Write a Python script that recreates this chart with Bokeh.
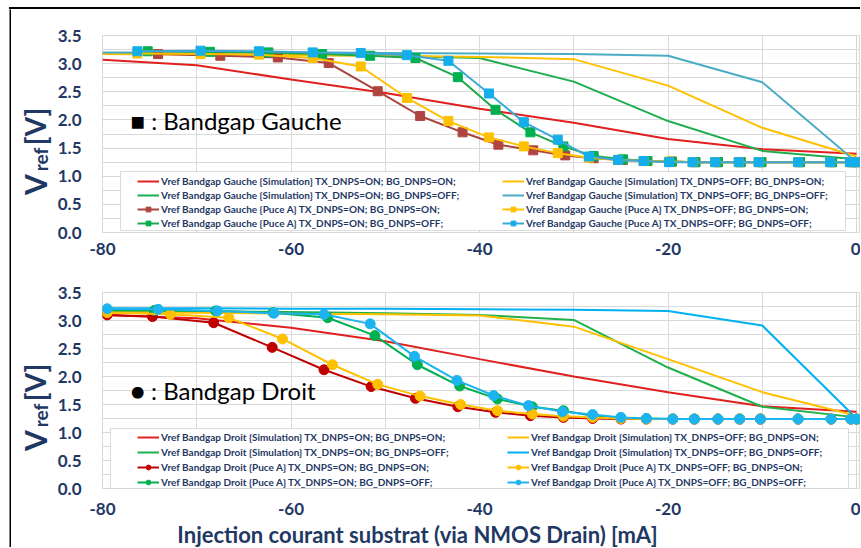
from math import pi
from bokeh.plotting import figure
from bokeh.models import (Label, Legend, LegendItem, BoxAnnotation, Range1d, FixedTicker, Div)
from bokeh.layouts import column, row
from bokeh.embed import file_html
from bokeh.resources import INLINE

NAVY = "#1F3864"
FONT = "Lato"
GRID = "#D9D9D9"

# ---------------- data ----------------
x_tick_values = [-80, -60, -40, -20, 0]
x_tick_labels = ["-80", "-60", "-40", "-20", "0"]
x_minor = [-80, -70, -60, -50, -40, -30, -20, -10, 0]
y_tick_values = [0.0, 0.5, 1.0, 1.5, 2.0, 2.5, 3.0, 3.5]
y_tick_labels = ["0.0", "0.5", "1.0", "1.5", "2.0", "2.5", "3.0", "3.5"]
y_minor = [0.0, 0.25, 0.5, 0.75, 1.0, 1.25, 1.5, 1.75, 2.0, 2.25, 2.5, 2.75, 3.0, 3.25, 3.5]

# Simulation x points (mA)
sim_x = [-80, -70, -60, -50, -40, -30, -20, -10, 0]

# --- Bandgap Gauche (top) ---
g_sim_on_on = [3.07, 2.97, 2.72, 2.48, 2.20, 1.95, 1.66, 1.48, 1.40]
g_sim_on_off = [3.17, 3.17, 3.16, 3.14, 3.10, 2.68, 1.98, 1.45, 1.30]
g_sim_off_on = [3.17, 3.16, 3.15, 3.14, 3.12, 3.08, 2.61, 1.86, 1.35]
g_sim_off_off = [3.20, 3.20, 3.20, 3.19, 3.18, 3.17, 3.14, 2.67, 1.25]

g_meas_on_on_x = [-74.1, -67.5, -61.4, -56.0, -50.8, -46.3, -41.8, -38.0, -34.3, -30.9, -27.9,
                  -24.8, -22.2, -19.6, -17.1, -14.7, -12.3, -10.1, -6.0, -2.6, -0.5, 0]
g_meas_on_on = [3.17, 3.14, 3.11, 3.01, 2.51, 2.07, 1.78, 1.56, 1.46, 1.37, 1.32,
                1.29, 1.27, 1.26, 1.25, 1.25, 1.25, 1.25, 1.25, 1.25, 1.25, 1.25]
g_meas_on_off_x = [-75.2, -68.6, -62.4, -56.7, -51.6, -46.8, -42.3, -38.3, -34.6, -31.1, -27.9,
                   -24.8, -22.2, -19.6, -17.1, -14.7, -12.3, -10.1, -6.0, -2.6, -0.5, 0]
g_meas_on_off = [3.22, 3.21, 3.20, 3.17, 3.14, 3.10, 2.76, 2.18, 1.78, 1.53, 1.36,
                 1.30, 1.27, 1.26, 1.25, 1.25, 1.25, 1.25, 1.25, 1.25, 1.25, 1.25]
g_meas_off_x = [-76.3, -69.6, -63.4, -57.7, -52.6, -47.7, -43.3, -39.0, -35.3, -31.7, -28.4,
                -25.3, -22.6, -19.9, -17.4, -15.0, -12.5, -10.4, -6.2, -2.8, -0.7, 0]
g_meas_off_on = [3.18, 3.17, 3.16, 3.10, 2.95, 2.39, 1.98, 1.69, 1.53, 1.41, 1.33,
                 1.29, 1.27, 1.26, 1.25, 1.25, 1.25, 1.25, 1.25, 1.25, 1.25, 1.25]
g_meas_off_off = [3.22, 3.23, 3.22, 3.20, 3.19, 3.15, 3.05, 2.47, 1.96, 1.65, 1.35,
                  1.29, 1.27, 1.25, 1.25, 1.25, 1.25, 1.25, 1.25, 1.25, 1.25, 1.25]

# --- Bandgap Droit (bottom) ---
d_sim_on_on = [3.10, 3.04, 2.87, 2.63, 2.31, 2.00, 1.72, 1.47, 1.37]
d_sim_on_off = [3.18, 3.17, 3.15, 3.13, 3.10, 3.01, 2.16, 1.46, 1.27]
d_sim_off_on = [3.15, 3.14, 3.12, 3.11, 3.09, 2.89, 2.31, 1.72, 1.30]
d_sim_off_off = [3.22, 3.22, 3.21, 3.21, 3.20, 3.19, 3.17, 2.91, 1.25]

d_meas_on_on_x = [-79.5, -74.7, -68.2, -62.0, -56.5, -51.5, -46.8, -42.3, -38.3, -34.6, -31.1, -28.0,
                  -25.0, -22.3, -19.5, -17.2, -14.7, -12.4, -10.2, -6.2, -2.7, -0.6, 0]
d_meas_on_on = [3.10, 3.07, 2.96, 2.52, 2.12, 1.82, 1.61, 1.46, 1.36, 1.30, 1.27, 1.25,
                1.24, 1.24, 1.24, 1.24, 1.24, 1.24, 1.24, 1.24, 1.24, 1.24, 1.24]
d_meas_on_off_x = [-79.5, -74.5, -68.0, -61.9, -56.1, -51.1, -46.6, -42.1, -38.1, -34.4, -31.1, -28.0,
                   -25.0, -22.3, -19.5, -17.2, -14.7, -12.4, -10.2, -6.2, -2.7, -0.6, 0]
d_meas_on_off = [3.18, 3.18, 3.17, 3.14, 3.05, 2.73, 2.21, 1.83, 1.60, 1.46, 1.39, 1.30,
                 1.26, 1.25, 1.24, 1.24, 1.24, 1.24, 1.24, 1.24, 1.24, 1.24, 1.24]
d_meas_off_on_x = [-79.5, -72.8, -66.6, -60.9, -55.6, -50.8, -46.3, -42.0, -38.1, -34.4, -31.1, -28.0,
                   -25.0, -22.3, -19.5, -17.2, -14.7, -12.4, -10.2, -6.2, -2.7, -0.6, 0]
d_meas_off_on = [3.14, 3.11, 3.05, 2.67, 2.21, 1.86, 1.65, 1.50, 1.39, 1.33, 1.29, 1.27,
                 1.25, 1.24, 1.24, 1.24, 1.24, 1.24, 1.24, 1.24, 1.24, 1.24, 1.24]
d_meas_off_off_x = [-79.5, -74.1, -67.8, -61.8, -56.5, -51.6, -46.9, -42.4, -38.5, -34.8, -31.2, -28.0,
                    -25.0, -22.3, -19.5, -17.2, -14.7, -12.4, -10.2, -6.2, -2.7, -0.6, 0]
d_meas_off_off = [3.21, 3.20, 3.17, 3.13, 3.11, 2.94, 2.36, 1.93, 1.66, 1.48, 1.37, 1.32,
                  1.27, 1.25, 1.24, 1.24, 1.24, 1.24, 1.24, 1.24, 1.24, 1.24, 1.24]

conds = ["TX_DNPS=ON; BG_DNPS=ON;", "TX_DNPS=ON; BG_DNPS=OFF;",
         "TX_DNPS=OFF; BG_DNPS=ON;", "TX_DNPS=OFF; BG_DNPS=OFF;"]


def blank(w, h, color="white"):
    f = figure(width=w, height=h, output_backend="svg", toolbar_location=None, title=None,
               x_range=Range1d(0, w), y_range=Range1d(0, h),
               x_axis_location=None, y_axis_location=None,
               min_border=0, min_border_left=0, min_border_right=0,
               min_border_top=0, min_border_bottom=0)
    f.grid.visible = False
    f.outline_line_color = None
    f.background_fill_color = color
    f.border_fill_color = color
    return f


def style_fig(p):
    p.xaxis.ticker = FixedTicker(ticks=x_tick_values, minor_ticks=x_minor)
    p.yaxis.ticker = FixedTicker(ticks=y_tick_values, minor_ticks=y_minor)
    p.xaxis.major_label_overrides = dict(zip(x_tick_values, x_tick_labels))
    p.yaxis.major_label_overrides = dict(zip(y_tick_values, y_tick_labels))
    for g in (p.xgrid, p.ygrid):
        g.grid_line_color = GRID
        g.minor_grid_line_color = GRID
        g.grid_line_width = 1
    for ax in (p.xaxis, p.yaxis):
        ax.axis_line_color = None
        ax.major_tick_line_color = None
        ax.minor_tick_line_color = None
        ax.major_tick_out = 0
        ax.major_tick_in = 0
        ax.major_label_text_font = FONT
        ax.major_label_text_font_style = "bold"
        ax.major_label_text_font_size = "17px"
        ax.major_label_text_color = NAVY
    p.yaxis.major_label_standoff = 17
    p.outline_line_color = GRID
    p.background_fill_color = "white"
    p.border_fill_color = "white"


def ytitle(f, cx, cy):
    # centred pieces: "V", subscript "ref", "[V]" reading bottom-to-top
    f.add_layout(Label(x=cx, y=cy, x_units="screen", y_units="screen", text="V", angle=pi / 2,
                       text_font=FONT, text_font_style="bold", text_font_size="30px",
                       text_color=NAVY, text_baseline="middle", text_align="center"))
    f.add_layout(Label(x=cx + 6, y=cy + 25, x_units="screen", y_units="screen", text="ref", angle=pi / 2,
                       text_font=FONT, text_font_style="bold", text_font_size="19px",
                       text_color=NAVY, text_baseline="middle", text_align="center"))
    f.add_layout(Label(x=cx, y=cy + 58, x_units="screen", y_units="screen", text="[V]", angle=pi / 2,
                       text_font=FONT, text_font_style="bold", text_font_size="28px",
                       text_color=NAVY, text_baseline="middle", text_align="center"))


def add_series(p, name, sims, meas, colors_sim, colors_meas, marker, msize):
    sim_r = []
    for ys, c in zip(sims, colors_sim):
        sim_r.append(p.line(sim_x, ys, line_color=c, line_width=2))
    meas_r = []
    for (xs, ys), (lc, fc) in zip(meas, colors_meas):
        l = p.line(xs, ys, line_color=lc, line_width=2)
        s = p.scatter(xs, ys, marker=marker, size=msize, fill_color=fc, line_color=fc)
        meas_r.append([l, s])
    left_items = [
        LegendItem(label=f"Vref Bandgap {name} {{Simulation}} {conds[0]}", renderers=[sim_r[0]]),
        LegendItem(label=f"Vref Bandgap {name} {{Simulation}} {conds[1]}", renderers=[sim_r[1]]),
        LegendItem(label=f"Vref Bandgap {name} {{Puce A}} {conds[0]}", renderers=meas_r[0]),
        LegendItem(label=f"Vref Bandgap {name} {{Puce A}} {conds[1]}", renderers=meas_r[1]),
    ]
    right_items = [
        LegendItem(label=f"Vref Bandgap {name} {{Simulation}} {conds[2]}", renderers=[sim_r[2]]),
        LegendItem(label=f"Vref Bandgap {name} {{Simulation}} {conds[3]}", renderers=[sim_r[3]]),
        LegendItem(label=f"Vref Bandgap {name} {{Puce A}} {conds[2]}", renderers=meas_r[2]),
        LegendItem(label=f"Vref Bandgap {name} {{Puce A}} {conds[3]}", renderers=meas_r[3]),
    ]
    return left_items, right_items


def make_legend(items, loc, spacing):
    return Legend(items=items, location=loc, orientation="vertical",
                  border_line_color=None, background_fill_alpha=0, padding=0, margin=0,
                  spacing=spacing, glyph_width=22, glyph_height=12, label_height=12,
                  label_standoff=2, label_text_font=FONT, label_text_font_style="bold",
                  label_text_font_size="10px", label_text_color=NAVY)


X_END = 0.42

# ---------------- top figure ----------------
p1 = figure(width=808, height=253, x_range=Range1d(-80, X_END), y_range=Range1d(0, 3.5),
            output_backend="svg", toolbar_location=None,
            min_border_left=50, min_border_right=0, min_border_top=26, min_border_bottom=30)
style_fig(p1)
p1.xaxis.major_label_standoff = 6
l1, r1 = add_series(
    p1, "Gauche",
    [g_sim_on_on, g_sim_on_off, g_sim_off_on, g_sim_off_off],
    [(g_meas_on_on_x, g_meas_on_on), (g_meas_on_off_x, g_meas_on_off),
     (g_meas_off_x, g_meas_off_on), (g_meas_off_x, g_meas_off_off)],
    ["#E0201E", "#1FAE4F", "#FFC000", "#4BACC6"],
    [("#A9443F", "#B0453F"), ("#1DA84A", "#00B050"), ("#FFC000", "#FFC000"), ("#3DA8D8", "#14AEEA")],
    "square", 9)
p1.add_layout(BoxAnnotation(left=18, right=743, bottom=2, top=61,
                            left_units="screen", right_units="screen",
                            bottom_units="screen", top_units="screen",
                            fill_color="white", fill_alpha=1, line_color="#8C8C8C", line_width=1))
p1.add_layout(make_legend(l1, (35, 3), 2))
p1.add_layout(make_legend(r1, (400, 3), 2))
p1.add_layout(Label(x=28, y=112, x_units="screen", y_units="screen", text="\u25A0 : Bandgap Gauche",
                    text_font=FONT, text_font_size="24px", text_color="black", text_baseline="middle"))

# ---------------- bottom figure ----------------
p2 = figure(width=808, height=258, x_range=Range1d(-80, X_END), y_range=Range1d(0, 3.5),
            output_backend="svg", toolbar_location=None,
            min_border_left=50, min_border_right=0, min_border_top=30, min_border_bottom=32)
style_fig(p2)
p2.xaxis.major_label_standoff = 10
l2, r2 = add_series(
    p2, "Droit",
    [d_sim_on_on, d_sim_on_off, d_sim_off_on, d_sim_off_off],
    [(d_meas_on_on_x, d_meas_on_on), (d_meas_on_off_x, d_meas_on_off),
     (d_meas_off_on_x, d_meas_off_on), (d_meas_off_off_x, d_meas_off_off)],
    ["#E0201E", "#22B04C", "#FFC000", "#00B0F0"],
    [("#C00000", "#C00000"), ("#00B050", "#00B050"), ("#FFC000", "#FFC000"), ("#1CB4F0", "#1CB4F0")],
    "circle", 10)
p2.add_layout(BoxAnnotation(left=8, right=746, bottom=0, top=60,
                            left_units="screen", right_units="screen",
                            bottom_units="screen", top_units="screen",
                            fill_color="white", fill_alpha=1, line_color="#8C8C8C", line_width=1))
p2.add_layout(make_legend(l2, (35, 0), 3))
p2.add_layout(make_legend(r2, (405, 0), 3))
p2.add_layout(Label(x=28, y=98, x_units="screen", y_units="screen", text="\u25CF : Bandgap Droit",
                    text_font=FONT, text_font_size="24px", text_color="black", text_baseline="middle"))

# ---------------- title panels and black frame ----------------
yt1 = blank(41, 253)
ytitle(yt1, 23, 48)
yt2 = blank(41, 258)
ytitle(yt2, 23, 48)
xt = blank(849, 27)
xt.add_layout(Label(x=406, y=13, x_units="screen", y_units="screen",
                    text="Injection courant substrat (via NMOS Drain) [mA]",
                    text_font=FONT, text_font_style="bold", text_font_size="22px",
                    text_color=NAVY, text_baseline="middle", text_align="center"))

top_line = Div(text="", width=851, height=2, margin=0, styles={"background-color": "black"})

layout = column(
    blank(860, 7),
    row(blank(9, 2), top_line, spacing=0),
    row(blank(9, 538), blank(2, 538, "black"),
        column(row(yt1, p1, spacing=0), row(yt2, p2, spacing=0), xt, spacing=0),
        spacing=0),
    spacing=0)

open("out.html", "w").write(file_html(layout, INLINE))
